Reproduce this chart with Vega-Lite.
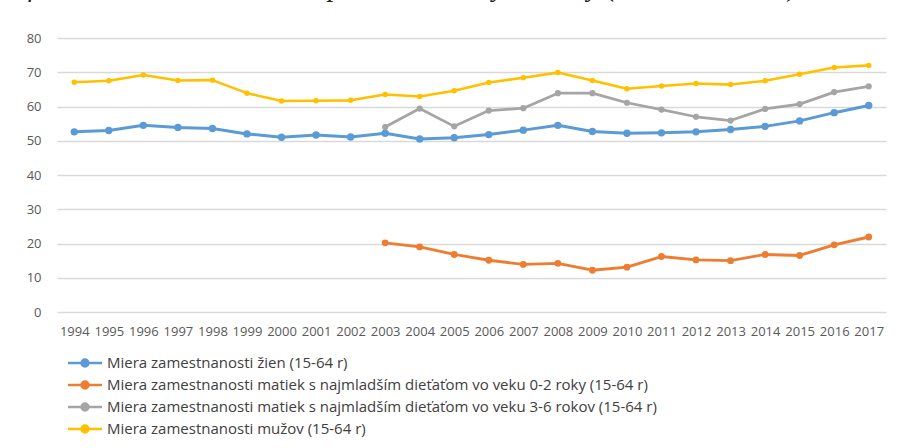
{
  "$schema": "https://vega.github.io/schema/vega-lite/v6.json",
  "width": 829,
  "height": 274,
  "autosize": {"type": "none"},
  "padding": {"left": 57, "top": 38, "right": 24, "bottom": 136},
  "background": "white",
  "title": {
    "text": "Graf 12: Miera zamestnanosti pre mužov, ženy a matky (%, 15-64 rokov)",
    "anchor": "start",
    "frame": "group",
    "font": "Liberation Serif",
    "fontStyle": "italic",
    "fontWeight": "normal",
    "fontSize": 28,
    "color": "#222222",
    "dx": -74,
    "offset": 30
  },
  "datasets": {
    "rows": [
      {"year": "1994", "series": "zeny", "value": 52.6},
      {"year": "1995", "series": "zeny", "value": 53.0},
      {"year": "1996", "series": "zeny", "value": 54.5},
      {"year": "1997", "series": "zeny", "value": 53.9},
      {"year": "1998", "series": "zeny", "value": 53.6},
      {"year": "1999", "series": "zeny", "value": 52.0},
      {"year": "2000", "series": "zeny", "value": 51.0},
      {"year": "2001", "series": "zeny", "value": 51.7},
      {"year": "2002", "series": "zeny", "value": 51.1},
      {"year": "2003", "series": "zeny", "value": 52.2},
      {"year": "2004", "series": "zeny", "value": 50.5},
      {"year": "2005", "series": "zeny", "value": 50.9},
      {"year": "2006", "series": "zeny", "value": 51.8},
      {"year": "2007", "series": "zeny", "value": 53.1},
      {"year": "2008", "series": "zeny", "value": 54.5},
      {"year": "2009", "series": "zeny", "value": 52.7},
      {"year": "2010", "series": "zeny", "value": 52.2},
      {"year": "2011", "series": "zeny", "value": 52.3},
      {"year": "2012", "series": "zeny", "value": 52.6},
      {"year": "2013", "series": "zeny", "value": 53.3},
      {"year": "2014", "series": "zeny", "value": 54.2},
      {"year": "2015", "series": "zeny", "value": 55.8},
      {"year": "2016", "series": "zeny", "value": 58.2},
      {"year": "2017", "series": "zeny", "value": 60.3},
      {"year": "2003", "series": "matky02", "value": 20.2},
      {"year": "2004", "series": "matky02", "value": 19.0},
      {"year": "2005", "series": "matky02", "value": 16.8},
      {"year": "2006", "series": "matky02", "value": 15.1},
      {"year": "2007", "series": "matky02", "value": 13.9},
      {"year": "2008", "series": "matky02", "value": 14.2},
      {"year": "2009", "series": "matky02", "value": 12.2},
      {"year": "2010", "series": "matky02", "value": 13.1},
      {"year": "2011", "series": "matky02", "value": 16.2},
      {"year": "2012", "series": "matky02", "value": 15.2},
      {"year": "2013", "series": "matky02", "value": 15.0},
      {"year": "2014", "series": "matky02", "value": 16.8},
      {"year": "2015", "series": "matky02", "value": 16.5},
      {"year": "2016", "series": "matky02", "value": 19.6},
      {"year": "2017", "series": "matky02", "value": 21.9},
      {"year": "2003", "series": "matky36", "value": 54.0},
      {"year": "2004", "series": "matky36", "value": 59.4},
      {"year": "2005", "series": "matky36", "value": 54.2},
      {"year": "2006", "series": "matky36", "value": 58.8},
      {"year": "2007", "series": "matky36", "value": 59.5},
      {"year": "2008", "series": "matky36", "value": 63.9},
      {"year": "2009", "series": "matky36", "value": 63.9},
      {"year": "2010", "series": "matky36", "value": 61.1},
      {"year": "2011", "series": "matky36", "value": 59.1},
      {"year": "2012", "series": "matky36", "value": 57.0},
      {"year": "2013", "series": "matky36", "value": 55.9},
      {"year": "2014", "series": "matky36", "value": 59.3},
      {"year": "2015", "series": "matky36", "value": 60.7},
      {"year": "2016", "series": "matky36", "value": 64.2},
      {"year": "2017", "series": "matky36", "value": 65.9},
      {"year": "1994", "series": "muzi", "value": 67.1},
      {"year": "1995", "series": "muzi", "value": 67.5},
      {"year": "1996", "series": "muzi", "value": 69.2},
      {"year": "1997", "series": "muzi", "value": 67.6},
      {"year": "1998", "series": "muzi", "value": 67.7},
      {"year": "1999", "series": "muzi", "value": 63.9},
      {"year": "2000", "series": "muzi", "value": 61.6},
      {"year": "2001", "series": "muzi", "value": 61.7},
      {"year": "2002", "series": "muzi", "value": 61.8},
      {"year": "2003", "series": "muzi", "value": 63.5},
      {"year": "2004", "series": "muzi", "value": 62.9},
      {"year": "2005", "series": "muzi", "value": 64.6},
      {"year": "2006", "series": "muzi", "value": 67.0},
      {"year": "2007", "series": "muzi", "value": 68.4},
      {"year": "2008", "series": "muzi", "value": 69.9},
      {"year": "2009", "series": "muzi", "value": 67.6},
      {"year": "2010", "series": "muzi", "value": 65.2},
      {"year": "2011", "series": "muzi", "value": 66.0},
      {"year": "2012", "series": "muzi", "value": 66.7},
      {"year": "2013", "series": "muzi", "value": 66.4},
      {"year": "2014", "series": "muzi", "value": 67.5},
      {"year": "2015", "series": "muzi", "value": 69.4},
      {"year": "2016", "series": "muzi", "value": 71.4},
      {"year": "2017", "series": "muzi", "value": 72.0}
    ],
    "names": [
      {"series": "zeny", "label": "Miera zamestnanosti žien (15-64 r)"},
      {"series": "matky02", "label": "Miera zamestnanosti matiek s najmladším dieťaťom vo veku 0-2 roky (15-64 r)"},
      {"series": "matky36", "label": "Miera zamestnanosti matiek s najmladším dieťaťom vo veku 3-6 rokov (15-64 r)"},
      {"series": "muzi", "label": "Miera zamestnanosti mužov (15-64 r)"}
    ]
  },
  "data": {"name": "rows"},
  "transform": [
    {"lookup": "series", "from": {"data": {"name": "names"}, "key": "series", "fields": ["label"]}}
  ],
  "encoding": {
    "x": {
      "field": "year",
      "type": "ordinal",
      "scale": {"type": "point", "padding": 0.5},
      "axis": {
        "title": null,
        "grid": false,
        "domain": false,
        "ticks": false,
        "labelAngle": 0,
        "labelOverlap": false,
        "labelFont": "Open Sans",
        "labelFontSize": 13,
        "labelColor": "#595959",
        "labelPadding": 13
      }
    },
    "y": {
      "field": "value",
      "type": "quantitative",
      "scale": {"domain": [0, 80], "nice": false, "zero": true},
      "axis": {
        "title": null,
        "values": [0, 10, 20, 30, 40, 50, 60, 70, 80],
        "domain": false,
        "ticks": false,
        "grid": true,
        "gridColor": "#d9d9d9",
        "gridWidth": 1.3,
        "labelFont": "Open Sans",
        "labelFontSize": 13,
        "labelColor": "#595959",
        "labelPadding": 16
      }
    },
    "color": {
      "field": "label",
      "type": "nominal",
      "sort": null,
      "scale": {
        "domain": [
          "Miera zamestnanosti žien (15-64 r)",
          "Miera zamestnanosti matiek s najmladším dieťaťom vo veku 0-2 roky (15-64 r)",
          "Miera zamestnanosti matiek s najmladším dieťaťom vo veku 3-6 rokov (15-64 r)",
          "Miera zamestnanosti mužov (15-64 r)"
        ],
        "range": ["#5B9BD5", "#ED7D31", "#A5A5A5", "#FFC000"]
      },
      "legend": {
        "title": null,
        "orient": "none",
        "legendX": 15,
        "legendY": 312,
        "direction": "vertical",
        "symbolType": "M-1.5,0L1.5,0M-0.3,0A0.3,0.3,0,1,0,0.3,0A0.3,0.3,0,1,0,-0.3,0Z",
        "symbolSize": 515,
        "symbolStrokeWidth": 2.6,
        "labelFont": "Open Sans",
        "labelFontSize": 15,
        "labelColor": "#404040",
        "labelOffset": 9,
        "labelLimit": 0,
        "rowPadding": 0,
        "encode": {
          "symbols": {"update": {"fill": {"scale": "color", "field": "value"}, "opacity": {"value": 1}}}
        }
      }
    }
  },
  "layer": [
    {
      "mark": {"type": "line", "strokeCap": "round", "strokeJoin": "round"},
      "encoding": {
        "strokeWidth": {
          "field": "series",
          "type": "nominal",
          "scale": {"domain": ["zeny", "matky02", "matky36", "muzi"], "range": [3, 2.6, 2.6, 2.6]},
          "legend": null
        }
      }
    },
    {
      "mark": {"type": "point", "filled": true, "opacity": 1},
      "encoding": {
        "size": {
          "field": "series",
          "type": "nominal",
          "scale": {"domain": ["zeny", "matky02", "matky36", "muzi"], "range": [55, 30, 30, 30]},
          "legend": null
        }
      }
    }
  ],
  "config": {
    "view": {"stroke": null}
  }
}
